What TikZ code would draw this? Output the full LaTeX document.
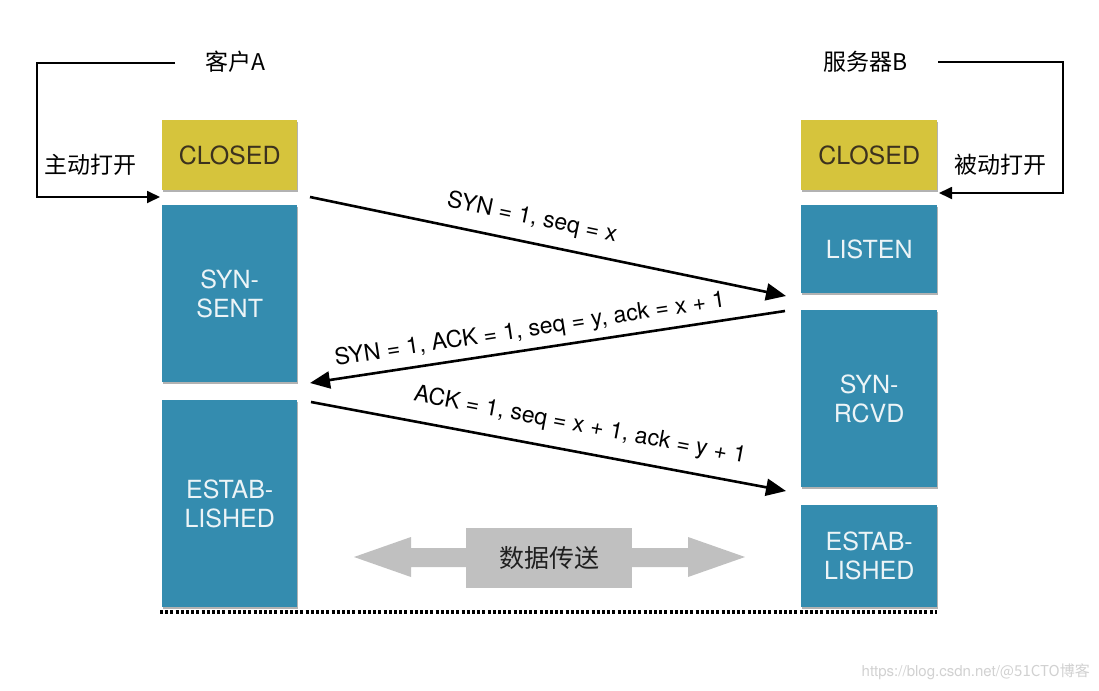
\documentclass[tikz,border=0pt]{standalone}
\usepackage{fontspec}
\setmainfont{TeX Gyre Heros}
\newfontfamily\cjk{Noto Sans CJK SC}
\usetikzlibrary{arrows.meta,shadows}
\definecolor{boxyellow}{RGB}{214,196,60}
\definecolor{boxblue}{RGB}{52,140,175}
\definecolor{bluetext}{RGB}{236,244,247}
\definecolor{yellowtext}{RGB}{60,50,30}
\definecolor{flowgray}{RGB}{192,192,192}
\tikzset{
  statebox/.style={rectangle, anchor=north west, inner sep=0pt, align=center,
    font=\fontsize{25}{29}\selectfont,
    drop shadow={shadow xshift=1pt, shadow yshift=-2pt, opacity=.3, fill=black}},
  yellowbox/.style={statebox, fill=boxyellow, text=yellowtext},
  bluebox/.style={statebox, fill=boxblue, text=bluetext},
  msg/.style={line width=2.6pt, -{Triangle[length=20pt,width=17pt]}},
  msglbl/.style={font=\fontsize{23}{27}\selectfont, inner sep=0pt},
  looparrow/.style={line width=1.8pt, -{Triangle[length=13pt,width=12pt]}},
  cjklbl/.style={font=\cjk\fontsize{23}{27}\selectfont, inner sep=0pt},
}
\begin{document}
\begin{tikzpicture}[x=1pt,y=-1pt]
\useasboundingbox (0,0) rectangle (1099,690);
\fill[white] (0,0) rectangle (1099,690);

% state boxes, client A
\node[yellowbox, minimum width=135pt, minimum height=70pt] (closedA) at (162,120) {CLOSED};
\node[bluebox, minimum width=135pt, minimum height=177pt] (synsent) at (162,205) {SYN-\\SENT};
\node[bluebox, minimum width=135pt, minimum height=207pt] (estA) at (162,400) {ESTAB-\\LISHED};
% state boxes, server B
\node[yellowbox, minimum width=136pt, minimum height=70pt] (closedB) at (801,120) {CLOSED};
\node[bluebox, minimum width=136pt, minimum height=88pt] (listen) at (801,205) {LISTEN};
\node[bluebox, minimum width=136pt, minimum height=177pt] (synrcvd) at (801,310) {SYN-\\RCVD};
\node[bluebox, minimum width=136pt, minimum height=102pt] (estB) at (801,505) {ESTAB-\\LISHED};

% titles
\node[cjklbl] (clientA) at (235,62) {客户A};
\node[cjklbl] (serverB) at (866,62) {服务器B};

% active / passive open loops
\coordinate (aStart) at (175,63);
\coordinate (aCorner) at (37,63);
\coordinate (aEnd) at (160,197);
\draw[looparrow] (aStart) -- (aCorner) |- (aEnd);
\node[cjklbl] (activeopen) at (90,165) {主动打开};

\coordinate (bStart) at (938,62);
\coordinate (bCorner) at (1063,62);
\coordinate (bEnd) at (939,193);
\draw[looparrow] (bStart) -- (bCorner) |- (bEnd);
\node[cjklbl] (passiveopen) at (1000,165) {被动打开};

% handshake messages
\coordinate (m1s) at (310,197);
\coordinate (m1e) at (786,296);
\coordinate (m2s) at (785,311);
\coordinate (m2e) at (310,383);
\coordinate (m3s) at (311,402);
\coordinate (m3e) at (786,491);
\draw[msg] (m1s) -- (m1e);
\draw[msg] (m2s) -- (m2e);
\draw[msg] (m3s) -- (m3e);
\node[msglbl, rotate=-11.66] (lbl1) at (532,218) {SYN = 1, seq = x};
\node[msglbl, rotate=8.62] (lbl2) at (530,330) {SYN = 1, ACK = 1, seq = y, ack = x + 1};
\node[msglbl, rotate=-10.61] (lbl3) at (580,426) {ACK = 1, seq = x + 1, ack = y + 1};

% data transfer
\fill[flowgray] (354,557) -- (411,537) -- (411,548) -- (688,548) -- (688,537)
  -- (745,557) -- (688,577) -- (688,567) -- (411,567) -- (411,577) -- cycle;
\node[fill=flowgray, minimum width=166pt, minimum height=60pt, inner sep=0pt,
  font=\cjk\fontsize{25}{29}\selectfont, text=black!88] (data) at (549,558) {数据传送};

% dotted baseline
\coordinate (baseL) at (160,612);
\coordinate (baseR) at (937,612);
\draw[line width=4pt, dash pattern=on 3pt off 2.2pt] (baseL) -- (baseR);

% watermark
\node[font=\fontsize{15}{18}\selectfont, text=black!18, anchor=east, inner sep=0pt] (wm) at (1090,672) {https://blog.csdn.net/{\cjk @51CTO博客}};
\end{tikzpicture}
\end{document}
